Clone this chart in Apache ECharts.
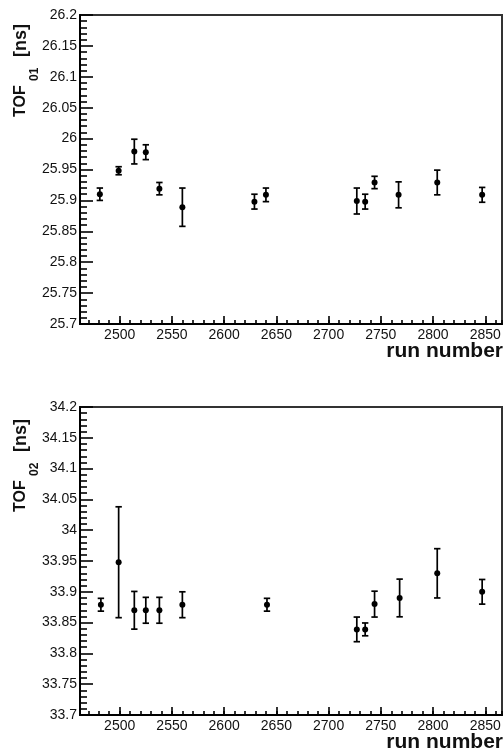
<!DOCTYPE html>
<html>
<head>
<meta charset="utf-8">
<script src="https://cdn.jsdelivr.net/npm/echarts@6/dist/echarts.min.js"></script>
<style>
html,body{margin:0;padding:0;background:#fff;}
#chart{width:504px;height:754px;}
</style>
</head>
<body>
<div id="chart"></div>
<script>
// ---- data ----
const runs01 = [2481, 2499, 2514, 2525, 2538, 2560, 2629, 2640, 2727, 2735, 2744, 2767, 2804, 2847];
const tof01  = [25.91, 25.948, 25.979, 25.978, 25.919, 25.889, 25.898, 25.909, 25.899, 25.898, 25.929, 25.909, 25.929, 25.909];
const err01  = [0.01, 0.0065, 0.02, 0.012, 0.01, 0.031, 0.012, 0.011, 0.021, 0.012, 0.01, 0.021, 0.02, 0.012];

const runs02 = [2482, 2499, 2514, 2525, 2538, 2560, 2641, 2727, 2735, 2744, 2768, 2804, 2847];
const tof02  = [33.879, 33.948, 33.87, 33.87, 33.87, 33.879, 33.879, 33.839, 33.839, 33.88, 33.89, 33.93, 33.90];
const err02  = [0.0104, 0.09, 0.0306, 0.021, 0.021, 0.021, 0.0104, 0.02, 0.0104, 0.021, 0.0306, 0.04, 0.02];

const runRange = [2462, 2866];
const yRange01 = [25.7, 26.2];
const yRange02 = [33.7, 34.2];
const yStep = 0.05;

const FONT = 'Liberation Sans, Arial, sans-serif';

function rows(r, v, e) { return r.map((x, i) => [x, v[i], e[i]]); }

function errRender(params, api) {
  const x = api.value(0), y = api.value(1), e = api.value(2);
  const top = api.coord([x, y + e]);
  const bot = api.coord([x, y - e]);
  const c = api.coord([x, y]);
  const w = 3.2;
  const st = {stroke: '#000', lineWidth: 1.7};
  return {type: 'group', children: [
    {type: 'line', shape: {x1: top[0], y1: top[1], x2: bot[0], y2: bot[1]}, style: st},
    {type: 'line', shape: {x1: top[0] - w, y1: top[1], x2: top[0] + w, y2: top[1]}, style: st},
    {type: 'line', shape: {x1: bot[0] - w, y1: bot[1], x2: bot[0] + w, y2: bot[1]}, style: st},
    {type: 'circle', shape: {cx: c[0], cy: c[1], r: 3}, style: {fill: '#000'}}
  ]};
}

function majorX(gi) {
  return {
    type: 'value', gridIndex: gi, position: 'bottom', min: runRange[0], max: runRange[1], splitNumber: 8,
    axisLine: {show: true, lineStyle: {color: '#000', width: 2}},
    axisTick: {show: true, inside: true, length: 8, lineStyle: {color: '#000', width: 1.6}},
    axisLabel: {show: true, margin: 4, color: '#111', fontSize: 14, fontFamily: FONT,
      showMinLabel: false, showMaxLabel: false, formatter: v => String(v)},
    splitLine: {show: false}
  };
}
function minorX(gi) {
  return {
    type: 'value', gridIndex: gi, position: 'bottom', min: runRange[0], max: runRange[1], splitNumber: 40,
    axisLine: {show: false},
    axisTick: {show: true, inside: true, length: 4, lineStyle: {color: '#000', width: 1.6}},
    axisLabel: {show: false},
    splitLine: {show: false}
  };
}
function yAx(gi, range) {
  return {
    type: 'value', gridIndex: gi, min: range[0], max: range[1], interval: yStep,
    axisLine: {show: true, lineStyle: {color: '#000', width: 2}},
    axisTick: {show: true, inside: true, length: 13, lineStyle: {color: '#000', width: 1.6}},
    minorTick: {show: true, splitNumber: 5, length: 7, lineStyle: {color: '#000', width: 1.6}},
    axisLabel: {show: true, margin: 3, color: '#111', fontSize: 14, fontFamily: FONT},
    splitLine: {show: false}, minorSplitLine: {show: false}
  };
}

function yTitle(bottomY, sub) {
  return {
    type: 'group', x: 20.5, y: bottomY, rotation: Math.PI / 2,
    children: [
      {type: 'text', x: 0, y: 0, style: {text: 'TOF', font: 'bold 16px ' + FONT, fill: '#111', align: 'left', verticalAlign: 'middle'}},
      {type: 'text', x: 36, y: 14, style: {text: sub, font: 'bold 12px ' + FONT, fill: '#111', align: 'left', verticalAlign: 'middle'}},
      {type: 'text', x: 60, y: 1, style: {text: '[ns]', font: 'bold 18px ' + FONT, fill: '#111', align: 'left', verticalAlign: 'middle'}}
    ]
  };
}

const chart = echarts.init(document.getElementById('chart'), null, {renderer: 'canvas'});
chart.setOption({
  animation: false,
  backgroundColor: '#fff',
  grid: [
    {left: 80, top: 15, width: 422, height: 309, show: true, borderColor: '#333', borderWidth: 2, backgroundColor: 'transparent'},
    {left: 80, top: 407, width: 422, height: 308, show: true, borderColor: '#333', borderWidth: 2, backgroundColor: 'transparent'}
  ],
  xAxis: [majorX(0), minorX(0), majorX(1), minorX(1)],
  yAxis: [yAx(0, yRange01), yAx(1, yRange02)],
  series: [
    {type: 'custom', xAxisIndex: 0, yAxisIndex: 0, renderItem: errRender, data: rows(runs01, tof01, err01), clip: false},
    {type: 'custom', xAxisIndex: 2, yAxisIndex: 1, renderItem: errRender, data: rows(runs02, tof02, err02), clip: false}
  ],
  graphic: [
    yTitle(117, '01'),
    yTitle(512, '02'),
    {type: 'text', right: 1, top: 341, style: {text: 'run number', font: 'bold 21px ' + FONT, fill: '#111'}},
    {type: 'text', right: 1, top: 732, style: {text: 'run number', font: 'bold 21px ' + FONT, fill: '#111'}}
  ]
});
</script>
</body>
</html>
